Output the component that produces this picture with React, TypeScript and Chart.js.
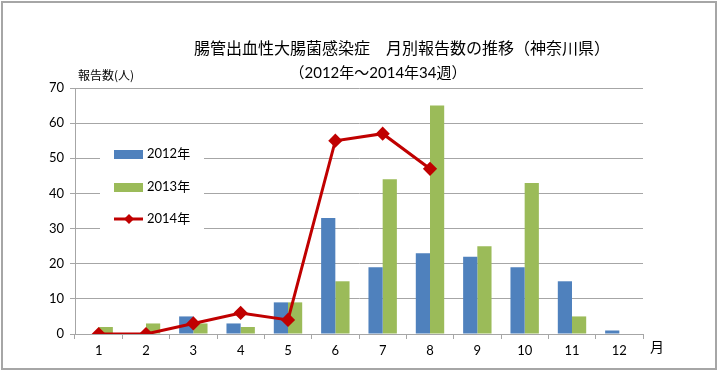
import React, { useEffect, useRef } from "react";
import { Chart, registerables } from "chart.js";

Chart.register(...registerables);

const months = ["1", "2", "3", "4", "5", "6", "7", "8", "9", "10", "11", "12"];
const series2012 = [0, 0, 5, 3, 9, 33, 19, 23, 22, 19, 15, 1];
const series2013 = [2, 3, 3, 2, 9, 15, 44, 65, 25, 43, 5, 0];
const series2014 = [0, 0, 3, 6, 4, 55, 57, 47, null, null, null, null];
const labels = ["2012年", "2013年", "2014年"];
const titleLine1 = "腸管出血性大腸菌感染症　月別報告数の推移（神奈川県）";
const titleLine2 = "（2012年～2014年34週）";
const yTitle = "報告数(人)";
const xTitle = "月";

const FONT = "Lato, 'Noto Sans CJK JP', sans-serif";
const CJK = "'Noto Sans CJK JP', sans-serif";

const decorPlugin = {
  id: "decor",
  beforeDraw(chart: any) {
    const ctx = chart.ctx;
    ctx.save();
    ctx.fillStyle = "#ffffff";
    ctx.fillRect(0, 0, chart.width, chart.height);
    ctx.restore();
  },
  afterDraw(chart: any) {
    const ctx = chart.ctx;
    ctx.save();
    // outer frame
    ctx.strokeStyle = "#a6a6a6";
    ctx.lineWidth = 2;
    ctx.strokeRect(2, 2, 714, 367);
    // titles
    ctx.fillStyle = "#000000";
    ctx.textBaseline = "middle";
    ctx.textAlign = "center";
    ctx.font = "16px " + CJK;
    ctx.fillText(titleLine1, 402, 48);
    ctx.font = "15px " + FONT;
    ctx.fillText(titleLine2, 378, 73);
    ctx.textAlign = "left";
    ctx.font = "12px " + CJK;
    ctx.fillText(yTitle, 78, 75);
    ctx.font = "14px " + CJK;
    ctx.fillText(xTitle, 650, 347);
    ctx.restore();
  },
  afterDatasetsDraw(chart: any) {
    // legend drawn inside plot
    const ctx = chart.ctx;
    ctx.save();
    ctx.fillStyle = "#ffffff";
    ctx.fillRect(100, 137, 104, 95);
    const ys = [154, 187, 219];
    chart.data.datasets.forEach((ds: any, i: number) => {
      const y = ys[i];
      if (ds.type === "line") {
        ctx.strokeStyle = ds.borderColor;
        ctx.lineWidth = 3;
        ctx.beginPath();
        ctx.moveTo(114, y);
        ctx.lineTo(143, y);
        ctx.stroke();
        ctx.fillStyle = ds.borderColor;
        ctx.beginPath();
        ctx.moveTo(129, y - 5);
        ctx.lineTo(134, y);
        ctx.lineTo(129, y + 5);
        ctx.lineTo(124, y);
        ctx.closePath();
        ctx.fill();
      } else {
        ctx.fillStyle = ds.backgroundColor;
        ctx.fillRect(114, y - 4, 29, 9);
      }
      ctx.fillStyle = "#000000";
      ctx.font = "13px " + FONT;
      ctx.textBaseline = "middle";
      ctx.textAlign = "left";
      ctx.fillText(ds.label, 147, y);
    });
    ctx.restore();
  },
};

export default function App() {
  const ref = useRef<HTMLCanvasElement | null>(null);
  useEffect(() => {
    document.body.style.margin = "0";
    const chart = new Chart(ref.current as HTMLCanvasElement, {
      type: "bar",
      data: {
        labels: months,
        datasets: [
          {
            type: "bar",
            label: labels[0],
            data: series2012,
            backgroundColor: "#4F81BD",
            order: 2,
            categoryPercentage: 0.6,
            barPercentage: 1.0,
          },
          {
            type: "bar",
            label: labels[1],
            data: series2013,
            backgroundColor: "#9BBB59",
            order: 2,
            categoryPercentage: 0.6,
            barPercentage: 1.0,
          },
          {
            type: "line",
            label: labels[2],
            data: series2014,
            borderColor: "#C00000",
            backgroundColor: "#C00000",
            borderWidth: 3,
            pointStyle: "rectRot",
            pointRadius: 5,
            pointBackgroundColor: "#C00000",
            pointBorderColor: "#C00000",
            tension: 0,
            spanGaps: false,
            order: 1,
          } as any,
        ],
      },
      options: {
        responsive: false,
        animation: false,
        devicePixelRatio: 1,
        layout: { padding: { left: 0, top: 88, right: 75, bottom: 0 } },
        plugins: {
          legend: { display: false },
          title: { display: false },
          tooltip: { enabled: false },
        },
        scales: {
          x: {
            offset: true,
            grid: {
              offset: true,
              drawOnChartArea: false,
              drawTicks: true,
              tickLength: 5,
              color: "#a6a6a6",
              lineWidth: 1,
            },
            border: { color: "#a6a6a6", width: 1 },
            ticks: {
              color: "#000000",
              font: { family: FONT, size: 13 },
              padding: 4,
              maxRotation: 0,
            },
            afterFit(scale: any) {
              scale.height = 38;
            },
          },
          y: {
            min: 0,
            max: 70,
            ticks: {
              stepSize: 10,
              color: "#000000",
              font: { family: FONT, size: 13 },
              padding: 6,
            },
            grid: {
              color: "#a6a6a6",
              lineWidth: 1,
              tickLength: 5,
            },
            border: { color: "#a6a6a6", width: 1 },
            afterFit(scale: any) {
              scale.width = 75;
            },
          },
        },
      },
      plugins: [decorPlugin],
    });
    return () => chart.destroy();
  }, []);
  return <canvas ref={ref} width={718} height={372} style={{ display: "block" }} />;
}
